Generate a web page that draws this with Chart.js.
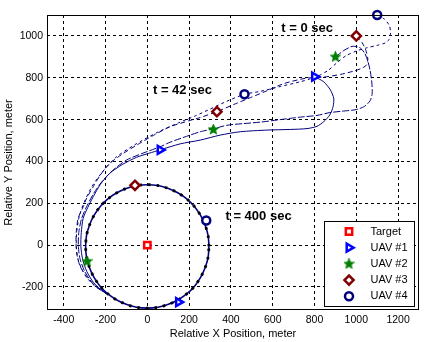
<!DOCTYPE html>
<html>
<head>
<meta charset="utf-8">
<title>UAV loiter trajectories</title>
<script src="https://cdn.jsdelivr.net/npm/chart.js@4.4.1/dist/chart.umd.min.js"></script>
<style>
  html, body { margin: 0; padding: 0; background: #fff; }
  canvas { display: block; }
</style>
</head>
<body>
<canvas id="plot" width="435" height="342"></canvas>
<script>
// flight paths, [x, y] in meters relative to the target
const uav1Path = [[800,805],[844,781],[876,742],[892,702],[889,662],[873,622],[844,590],[812,568],[764,557],[684,553],[573,550],[445,542],[349,526],[253,502],[157,484],[61,455],[-51,420],[-120,385],[-179,344],[-225,290],[-259,231],[-285,180],[-307,128],[-316,60],[-318,-5],[-310,-65],[-290,-125],[-258,-178],[-225,-210],[-190,-232]];
const uav2Path = [[900,900],[940,930],[980,950],[1015,945],[1040,918],[1055,880],[1066,835],[1074,780],[1076,725],[1066,690],[1040,664],[1000,648],[930,640],[870,633],[812,620],[732,612],[684,606],[621,598],[541,588],[460,581],[381,573],[316,556],[253,542],[205,526],[109,492],[61,470],[-20,440],[-99,407],[-160,362],[-211,311],[-255,250],[-291,183],[-315,125],[-328,60],[-330,-5],[-322,-65],[-300,-125],[-265,-178],[-228,-212],[-190,-232]];
const uav3Path = [[1000,1000],[1028,968],[1046,930],[1055,890],[1048,860],[1025,845],[988,832],[924,816],[844,803],[760,798],[653,772],[573,738],[493,705],[413,672],[333,638],[253,610],[205,596],[109,566],[30,525],[-51,478],[-120,435],[-179,391],[-225,335],[-259,279],[-290,225],[-307,183],[-331,128],[-340,60],[-341,0],[-336,-50],[-322,-100],[-295,-145],[-260,-185],[-225,-213],[-190,-232]];
const uav4Path = [[1100,1100],[1135,1080],[1158,1050],[1164,1015],[1156,982],[1140,967],[1100,955],[1050,943],[1000,928],[950,905],[905,870],[865,835],[820,810],[780,795],[732,781],[636,758],[541,735],[465,721],[381,688],[300,650],[230,618],[150,585],[50,540],[-60,480],[-150,420],[-215,350],[-265,280],[-300,210],[-325,140],[-337,70],[-340,0],[-333,-60],[-316,-110],[-290,-155],[-255,-192],[-220,-217],[-190,-232]];

// loiter circle around the target
const loiter = [[295,-6],[291,45],[277,95],[255,142],[226,184],[190,220],[148,249],[101,271],[51,285],[0,289],[-51,285],[-101,271],[-148,249],[-190,220],[-226,184],[-255,142],[-277,95],[-291,45],[-295,-6],[-291,-57],[-277,-107],[-255,-154],[-226,-196],[-190,-232],[-148,-261],[-101,-283],[-51,-297],[0,-301],[51,-297],[101,-283],[148,-261],[190,-232],[226,-196],[255,-154],[277,-107],[291,-57],[295,-6]];

// positions at t = 0, 42 and 400 sec
const targetPos = [[0,0]];
const uav1Marks = [[800,805],[61,455],[149,-272]];
const uav2Marks = [[900,900],[316,553],[-288,-77]];
const uav3Marks = [[1000,1000],[333,638],[-59,286]];
const uav4Marks = [[1100,1100],[465,721],[282,118]];

const names = ['Target', 'UAV #1', 'UAV #2', 'UAV #3', 'UAV #4'];
const timeLabels = ['t = 0 sec', 't = 42 sec', 't = 400 sec'];
const timeLabelAt = [[641,1038],[27,738],[374,135]];

const xRange = [-480, 1300];
const yRange = [-310, 1100];
const xTickValues = [-400, -200, 0, 200, 400, 600, 800, 1000, 1200];
const yTickValues = [-200, 0, 200, 400, 600, 800, 1000];

const NAVY = '#00007f';
const FONT = "'Liberation Sans', Arial, sans-serif";

const pts = a => a.map(([x, y]) => ({ x, y }));

function starImage(size, color) {
  const c = document.createElement('canvas');
  c.width = c.height = size;
  const g = c.getContext('2d');
  const cx = size / 2, cy = size / 2, r = size / 2 - 0.8, ri = r * 0.45;
  g.beginPath();
  for (let i = 0; i < 10; i++) {
    const rr = i % 2 ? ri : r;
    const ang = -Math.PI / 2 + i * Math.PI / 5;
    g.lineTo(cx + rr * Math.cos(ang), cy + rr * Math.sin(ang));
  }
  g.closePath();
  g.fillStyle = color;
  g.fill();
  g.strokeStyle = color;
  g.lineWidth = 1.3;
  g.stroke();
  return c;
}

function marks(label, data, style, color, radius, rotation) {
  return {
    label, data: pts(data), showLine: false, clip: false,
    pointStyle: style, pointRadius: radius, pointHoverRadius: radius,
    pointRotation: rotation || 0, pointBorderWidth: 2.5,
    pointBorderColor: color, pointBackgroundColor: '#fff'
  };
}

function path(data, dash) {
  return {
    data: pts(data), showLine: true, pointRadius: 0, borderColor: NAVY,
    borderWidth: 1, borderDash: dash, tension: 0.25, fill: false
  };
}

const markerSets = [
  marks(names[0], targetPos, 'rect', '#ff0000', 4.5),
  marks(names[1], uav1Marks, 'triangle', '#0000ff', 4.6, 90),
  Object.assign(marks(names[2], uav2Marks, starImage(11, '#007f00'), '#007f00', 5), { pointBackgroundColor: '#007f00' }),
  marks(names[3], uav3Marks, 'rectRot', '#7f0000', 4.6),
  marks(names[4], uav4Marks, 'circle', NAVY, 4)
];

const datasets = markerSets.concat([
  { data: pts(loiter), showLine: true, pointRadius: 0, borderColor: '#000', borderWidth: 2.8, borderDash: [2.5, 6], tension: 0.3 },
  { data: pts(loiter), showLine: true, pointRadius: 0, borderColor: NAVY, borderWidth: 1.6, tension: 0.3 },
  path(uav1Path, []),
  path(uav2Path, [7, 2]),
  path(uav3Path, [5, 3]),
  path(uav4Path, [3, 3])
]);

// axes box, time labels and the legend
const decorations = {
  id: 'decorations',
  afterDatasetsDraw(chart) {
    const { ctx, chartArea: a, scales } = chart;
    ctx.save();
    ctx.strokeStyle = '#000';
    ctx.lineWidth = 1;
    ctx.strokeRect(Math.round(a.left) + 0.5, Math.round(a.top) + 0.5,
      Math.round(a.right - a.left) - 1, Math.round(a.bottom - a.top) - 1);

    ctx.fillStyle = '#000';
    ctx.font = 'bold 13px ' + FONT;
    ctx.textBaseline = 'middle';
    ctx.textAlign = 'left';
    timeLabels.forEach((t, i) => {
      const [x, y] = timeLabelAt[i];
      ctx.fillText(t, scales.x.getPixelForValue(x), scales.y.getPixelForValue(y));
    });
    ctx.restore();
  },
  afterDraw(chart) {
    const { ctx, chartArea: a } = chart;
    const w = 90, h = 85;
    const left = Math.round(a.right - 5 - w), top = Math.round(a.bottom - 4 - h);
    ctx.save();
    ctx.fillStyle = '#fff';
    ctx.fillRect(left, top, w, h);
    ctx.strokeStyle = '#000';
    ctx.lineWidth = 1;
    ctx.strokeRect(left + 0.5, top + 0.5, w, h);
    ctx.font = '11px ' + FONT;
    ctx.textBaseline = 'middle';
    markerSets.forEach((ds, i) => {
      const y = top + 10.5 + i * 16.2;
      ctx.strokeStyle = ds.pointBorderColor;
      ctx.fillStyle = ds.pointBackgroundColor;
      ctx.lineWidth = ds.pointBorderWidth;
      Chart.helpers.drawPoint(ctx, {
        pointStyle: ds.pointStyle, radius: ds.pointRadius,
        rotation: ds.pointRotation, borderWidth: ds.pointBorderWidth
      }, left + 25, y);
      ctx.fillStyle = '#000';
      ctx.fillText(ds.label, left + 46.5, y);
    });
    ctx.restore();
  }
};

const tickFont = { family: FONT, size: 10.5 };
const titleFont = { family: FONT, size: 11 };

function fixedTicks(values) {
  return scale => { scale.ticks = values.map(v => ({ value: v })); };
}

new Chart(document.getElementById('plot'), {
  type: 'scatter',
  data: { datasets },
  options: {
    responsive: false,
    animation: false,
    devicePixelRatio: 1,
    layout: { padding: { top: 15, right: 16, left: 0, bottom: 0 } },
    plugins: { legend: { display: false }, tooltip: { enabled: false } },
    scales: {
      x: {
        min: xRange[0], max: xRange[1],
        afterBuildTicks: fixedTicks(xTickValues),
        ticks: { color: '#000', font: tickFont, padding: 4, maxRotation: 0, autoSkip: false, callback: v => String(v) },
        grid: { color: '#000', lineWidth: 1, drawTicks: false },
        border: { display: false, dash: [3, 3] },
        title: { display: true, text: 'Relative X Position, meter', color: '#000', font: titleFont, padding: { top: 0, bottom: 1 } },
        afterFit(scale) { scale.height = 32; }
      },
      y: {
        min: yRange[0], max: yRange[1],
        afterBuildTicks: fixedTicks(yTickValues),
        ticks: { color: '#000', font: tickFont, padding: 4, autoSkip: false, callback: v => String(v) },
        grid: { color: '#000', lineWidth: 1, drawTicks: false },
        border: { display: false, dash: [3, 3] },
        title: { display: true, text: 'Relative Y Position, meter', color: '#000', font: titleFont, padding: { top: 2, bottom: 0 } },
        afterFit(scale) { scale.width = 47; }
      }
    }
  },
  plugins: [decorations]
});
</script>
</body>
</html>
